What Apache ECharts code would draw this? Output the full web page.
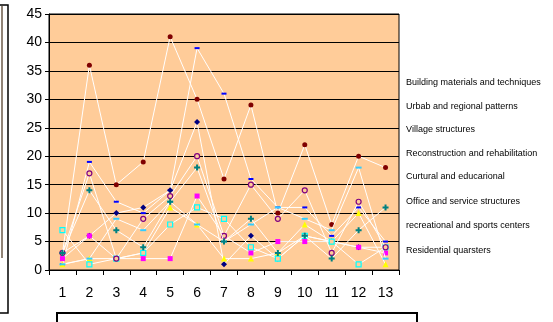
<!DOCTYPE html>
<html>
<head>
<meta charset="utf-8">
<script src="https://cdn.jsdelivr.net/npm/echarts@6/dist/echarts.min.js"></script>
<style>
  html, body { margin: 0; padding: 0; background: #fff; }
  #chart { width: 553px; height: 322px; }
</style>
</head>
<body>
<div id="chart"></div>
<script>
// categories and series names
const categories = ["1", "2", "3", "4", "5", "6", "7", "8", "9", "10", "11", "12", "13"];
const seriesNames = [
  "Building materials and techniques",
  "Urbab and regional patterns",
  "Village structures",
  "Reconstruction and rehabilitation",
  "Curtural and educarional",
  "Office and service structures",
  "recreational and sports centers",
  "Residential quarsters",
];

// values
const maroonVals = [3, 36, 15, 19, 41, 30, 16, 29, 10, 22, 8, 20, 18];
const blueVals = [1, 19, 12, 10, 14, 39, 31, 16, 11, 11, 6, 11, 5];
const navyVals = [3, 6, 10, 11, 14, 26, 1, 6, 2, 6, 5, 4, 4];
const magentaVals = [2, 6, 2, 2, 2, 13, 6, 3, 5, 5, 5, 4, 3];
const yellowVals = [1, 2, 2, 3, 11, 8, 2, 2, 3, 8, 5, 10, 1];
const cyanBoxVals = [7, 1, 2, 3, 8, 11, 9, 4, 2, 6, 5, 1, 4];
const cyanDashVals = [1, 2, 9, 7, 12, 8, 5, 8, 11, 9, 7, 18, 2];
const purpleVals = [3, 17, 2, 9, 13, 20, 6, 15, 9, 14, 3, 12, 4];
const tealVals = [3, 14, 7, 4, 12, 18, 5, 9, 3, 6, 2, 7, 11];

const BG = "#FFCC99";
const PLUS = "path://M2,0H4V2H6V4H4V6H2V4H0V2H2Z";

const markers = [
  { data: maroonVals, symbol: "circle", size: 5, color: "#800000" },
  { data: blueVals, symbol: "rect", size: [5, 2], color: "#0000FF" },
  { data: navyVals, symbol: "diamond", size: 6, color: "#000080" },
  { data: magentaVals, symbol: "rect", size: 5, color: "#FF00FF" },
  { data: yellowVals, symbol: "triangle", size: 6, color: "#FFFF00" },
  { data: cyanBoxVals, symbol: "rect", size: 5, color: BG, border: "#00FFFF" },
  { data: cyanDashVals, symbol: "rect", size: [6, 2], color: "#33CCFF" },
  { data: purpleVals, symbol: "circle", size: 5, color: BG, border: "#800080" },
  { data: tealVals, symbol: PLUS, size: 6, color: "#008080" },
];

const series = markers.map((m, i) => ({
  name: seriesNames[i] || "extra",
  type: "line",
  data: m.data,
  symbol: m.symbol,
  symbolSize: m.size,
  showSymbol: true,
  lineStyle: { color: "#FFFFFF", width: 1 },
  itemStyle: {
    color: m.color,
    borderColor: m.border || m.color,
    borderWidth: m.border ? 1.2 : 0,
  },
  emphasis: { disabled: true },
  animation: false,
  z: 2 + i,
}));

const chart = echarts.init(document.getElementById("chart"));
chart.setOption({
  animation: false,
  textStyle: { fontFamily: "Liberation Sans, Arial, sans-serif" },
  grid: {
    left: 49,
    right: 154,
    top: 14,
    bottom: 52,
    show: true,
    backgroundColor: BG,
    borderColor: "#000",
    borderWidth: 1,
  },
  legend: {
    data: seriesNames,
    orient: "vertical",
    left: 394,
    top: 77,
    padding: 0,
    itemWidth: 1,
    itemHeight: 14,
    itemGap: 12.3,
    itemStyle: { opacity: 0 },
    lineStyle: { opacity: 0 },
    selectedMode: false,
    textStyle: { fontSize: 9, color: "#000", fontFamily: "Liberation Sans, Arial, sans-serif" },
  },
  xAxis: {
    type: "category",
    data: categories,
    boundaryGap: true,
    axisLine: { lineStyle: { color: "#000", width: 1 } },
    axisTick: { show: true, length: 5, inside: false, lineStyle: { color: "#000" } },
    axisLabel: { fontSize: 14, color: "#000", margin: 16 },
    splitLine: { show: false },
  },
  yAxis: {
    type: "value",
    min: 0,
    max: 45,
    interval: 5,
    axisLine: { show: true, lineStyle: { color: "#000", width: 1 } },
    axisTick: { show: true, length: 4, lineStyle: { color: "#000" } },
    axisLabel: { fontSize: 14, color: "#000", margin: 7 },
    splitLine: { show: true, lineStyle: { color: "#000", width: 1 } },
  },
  graphic: [
    // cut-off neighbouring box on the left
    { type: "rect", shape: { x: -10, y: 5, width: 18, height: 308 }, style: { fill: "#fff", stroke: "#000", lineWidth: 1.5 } },
    { type: "line", shape: { x1: 2, y1: 6, x2: 2, y2: 258 }, style: { stroke: "#6b5a48", lineWidth: 1.5 } },
    // box under the axis labels
    { type: "rect", shape: { x: 57, y: 313, width: 360, height: 20 }, style: { fill: "none", stroke: "#000", lineWidth: 2 } },
  ],
  series: series,
});
</script>
</body>
</html>
